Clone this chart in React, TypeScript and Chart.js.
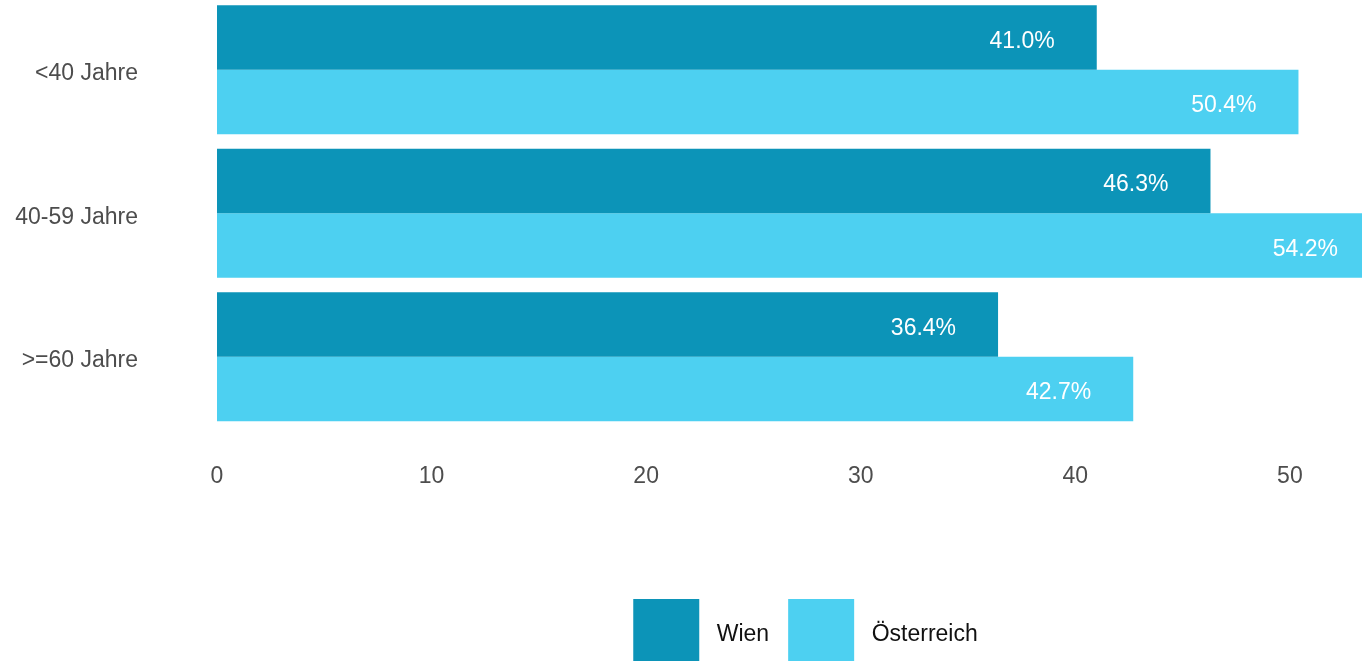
import React, { useEffect, useRef } from "react";
import { Chart, registerables } from "chart.js";

Chart.register(...registerables);

const categories = ["<40 Jahre", "40-59 Jahre", ">=60 Jahre"];
const wienValues = [41.0, 46.3, 36.4];
const oesterreichValues = [50.4, 54.2, 42.7];
const seriesNames = ["Wien", "Österreich"];
const seriesColors = ["#0c94b8", "#4dd0f1"];
const xTickValues = [0, 10, 20, 30, 40, 50];
const xMax = 54.2;

const FONT = "'Liberation Sans', Arial, sans-serif";

const valueLabels = {
  id: "valueLabels",
  afterDatasetsDraw(chart: any) {
    const ctx = chart.ctx;
    ctx.save();
    ctx.font = `23px ${FONT}`;
    ctx.fillStyle = "#ffffff";
    ctx.textAlign = "right";
    ctx.textBaseline = "middle";
    chart.data.datasets.forEach((ds: any, i: number) => {
      const meta = chart.getDatasetMeta(i);
      meta.data.forEach((el: any, j: number) => {
        const v = ds.data[j] as number;
        ctx.fillText(v.toFixed(1) + "%", el.x - 42, el.y + 4);
      });
    });
    ctx.restore();
  },
};

// paints the 66px colour squares into the legend's (wider, transparent) box slots
const legendSwatches = {
  id: "legendSwatches",
  afterDraw(chart: any) {
    const lg = chart.legend;
    if (!lg || !lg.legendHitBoxes) return;
    const ctx = chart.ctx;
    ctx.save();
    lg.legendHitBoxes.forEach((hb: any, i: number) => {
      ctx.fillStyle = chart.data.datasets[i].backgroundColor;
      ctx.fillRect(hb.left + 14, hb.top - 3, 66, 66);
    });
    ctx.restore();
  },
};

export default function App() {
  const canvasRef = useRef<HTMLCanvasElement | null>(null);

  useEffect(() => {
    if (!canvasRef.current) return;
    const chart = new Chart(canvasRef.current, {
      type: "bar",
      data: {
        labels: categories,
        datasets: [
          {
            label: seriesNames[0],
            data: wienValues,
            backgroundColor: seriesColors[0],
            borderWidth: 0,
            categoryPercentage: 0.9,
            barPercentage: 1,
          },
          {
            label: seriesNames[1],
            data: oesterreichValues,
            backgroundColor: seriesColors[1],
            borderWidth: 0,
            categoryPercentage: 0.9,
            barPercentage: 1,
          },
        ],
      },
      options: {
        indexAxis: "y",
        responsive: false,
        animation: false,
        devicePixelRatio: 1,
        layout: { padding: { left: 0, right: 2, top: 0, bottom: 0 } },
        scales: {
          x: {
            type: "linear",
            min: 0,
            max: xMax,
            grid: { display: false, drawTicks: false },
            border: { display: false },
            afterBuildTicks: (scale: any) => {
              scale.ticks = xTickValues.map((v) => ({ value: v }));
            },
            afterFit: (scale: any) => {
              scale.height = 168.5;
            },
            ticks: {
              padding: 34,
              color: "#4d4d4d",
              font: { family: FONT, size: 23 },
            },
          },
          y: {
            grid: { display: false, drawTicks: false },
            border: { display: false },
            afterFit: (scale: any) => {
              scale.width = 217;
              scale.paddingTop = 0;
              scale.paddingBottom = 0;
            },
            ticks: {
              padding: 79,
              labelOffset: 4,
              color: "#4d4d4d",
              font: { family: FONT, size: 23 },
            },
          },
        },
        plugins: {
          legend: {
            display: true,
            position: "bottom",
            fullSize: false,
            labels: {
              boxWidth: 86,
              boxHeight: 66,
              padding: 5,
              color: "#111111",
              font: { family: FONT, size: 23 },
              generateLabels: (c: any) => {
                const items = (Chart as any).defaults.plugins.legend.labels.generateLabels(c);
                return items.map((it: any) => ({
                  ...it,
                  fillStyle: "rgba(0,0,0,0)",
                  lineWidth: 0,
                }));
              },
            },
          },
          tooltip: { enabled: false },
        },
      },
      plugins: [valueLabels, legendSwatches],
    });
    return () => chart.destroy();
  }, []);

  return (
    <div
      style={{
        position: "fixed",
        left: 0,
        top: 0,
        width: 1362,
        height: 661,
        overflow: "hidden",
        background: "#ffffff",
      }}
    >
      <canvas
        ref={canvasRef}
        width={1382}
        height={680}
        style={{ position: "absolute", left: 0, top: -2, width: 1382, height: 680 }}
      />
    </div>
  );
}
